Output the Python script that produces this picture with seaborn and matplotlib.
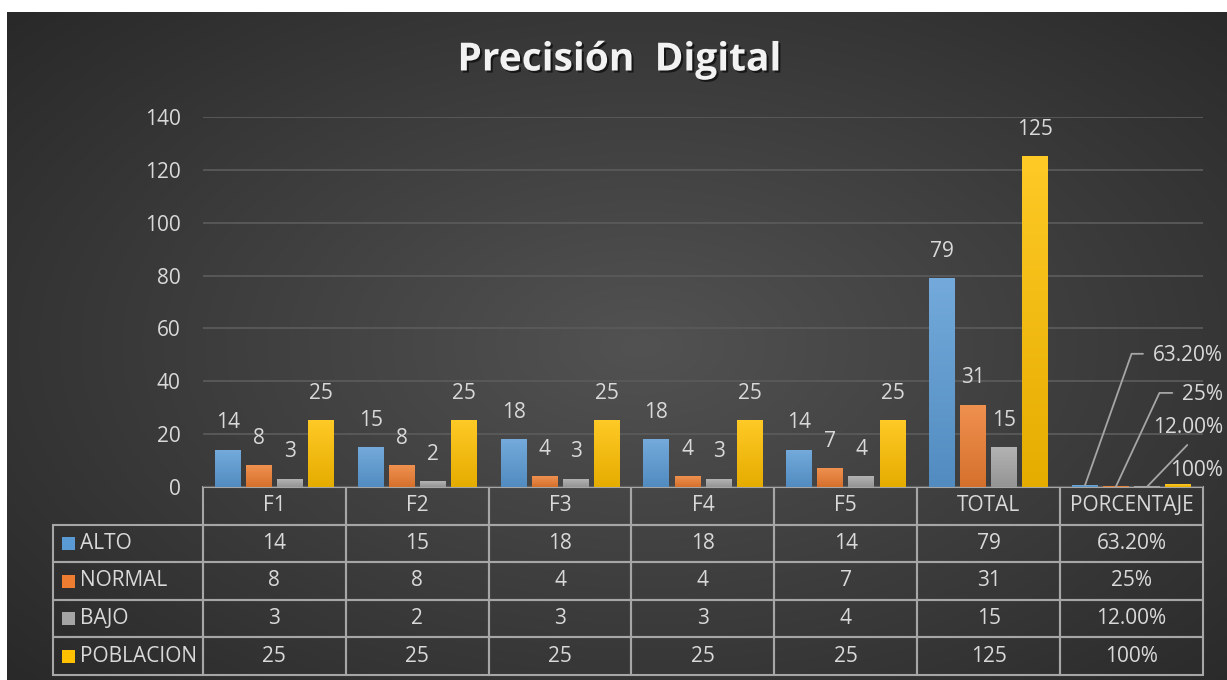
import numpy as np
import pandas as pd
import seaborn as sns
import matplotlib.pyplot as plt
import matplotlib.patheffects as pe
from matplotlib.colors import to_rgb
from matplotlib.patches import Rectangle

# chart data
categories = ['F1', 'F2', 'F3', 'F4', 'F5', 'TOTAL', 'PORCENTAJE']
series = ['ALTO', 'NORMAL', 'BAJO', 'POBLACION']
alto = [14, 15, 18, 18, 14, 79, 0.632]
normal = [8, 8, 4, 4, 7, 31, 0.25]
bajo = [3, 2, 3, 3, 4, 15, 0.12]
poblacion = [25, 25, 25, 25, 25, 125, 1.0]
pct_labels = ['63.20%', '25%', '12.00%', '100%']

colors = ['#5B9BD5', '#ED7D31', '#A5A5A5', '#FFC000']
text_col = '#d9d9d9'
line_col = '#a6a6a6'

values = [alto, normal, bajo, poblacion]
df = pd.DataFrame({
    'categoria': categories * len(series),
    'serie': [s for s in series for _ in categories],
    'valor': [v for vals in values for v in vals],
})

sns.set_theme(style='dark')
plt.rcParams['font.family'] = ['Open Sans', 'DejaVu Sans']

W, H = 1227, 680
fig = plt.figure(figsize=(W / 100, H / 100), dpi=100, facecolor='white')

# dark radial background (white strip on top / left like the screenshot)
bg = fig.add_axes([7 / W, 0, 1 - 7 / W, 1 - 12 / H])
bg.set_axis_off()
yy, xx = np.mgrid[0:1:300j, 0:1:540j]
r = np.sqrt(((xx - 0.52) / 0.75) ** 2 + ((yy - 0.5) / 0.8) ** 2)
r = np.clip(r, 0, 1)
c_in, c_out = np.array(to_rgb('#525252')), np.array(to_rgb('#262626'))
img = c_in[None, None, :] * (1 - r[..., None]) + c_out[None, None, :] * r[..., None]
bg.imshow(img, aspect='auto', extent=[0, 1, 0, 1])

# main plot area
ax = fig.add_axes([203 / W, 1 - 487 / H, 1000 / W, 370 / H])
ax.set_facecolor('none')
sns.barplot(data=df, x='categoria', y='valor', hue='serie', palette=colors,
            hue_order=series, order=categories, width=0.87, gap=0.17,
            saturation=1, legend=False, linewidth=0, ax=ax)

# vertical gradient on every bar
for patch in ax.patches:
    c = np.array(to_rgb(patch.get_facecolor()))
    top = c + (1 - c) * 0.15
    bottom = c * 0.9
    grad = np.linspace(bottom, top, 64)[:, None, :]
    x0, w, h = patch.get_x(), patch.get_width(), patch.get_height()
    ax.imshow(grad, extent=[x0, x0 + w, 0, h], origin='lower', aspect='auto',
              zorder=patch.get_zorder() + 0.1)

ax.set_xlim(-0.5, 6.5)
ax.set_ylim(0, 140)
ax.set_yticks(range(0, 141, 20))
ax.yaxis.grid(True, color='#5a5a5a', lw=1.3)
ax.xaxis.grid(False)
ax.set_axisbelow(True)
for sp in ax.spines.values():
    sp.set_visible(False)
ax.tick_params(axis='y', colors=text_col, labelsize=15, length=0, pad=16)
ax.set_xticks([])
ax.set_xlabel('')
ax.set_ylabel('')

# value labels (integers on the count groups)
for cont, vals in zip(ax.containers, values):
    labels = [f'{v:g}' for v in vals[:-1]] + ['']
    ax.bar_label(cont, labels=labels, padding=12, color=text_col, fontsize=15, zorder=5)

# percent labels with leader lines
pct_text_y = [49.6, 35.0, 22.7, 6.4]
leader_pts = [[(6.0, 50.4), (6.08, 50.4)],
              [(6.195, 35.6), (6.285, 35.6)],
              [(6.39, 15.9)],
              []]
for cont, lab, ty, pts in zip(ax.containers, pct_labels, pct_text_y, leader_pts):
    bar = cont[-1]
    bx = bar.get_x() + bar.get_width() / 2
    if pts:
        xs = [bx] + [p[0] for p in pts]
        ys = [bar.get_height()] + [p[1] for p in pts]
        ax.plot(xs, ys, color=line_col, lw=1.3, clip_on=False, zorder=4)
    ax.text(6.64, ty, lab, ha='right', va='center', color=text_col,
            fontsize=15, clip_on=False)

# data table under the plot
cell_text = []
for name, vals in zip(series, values):
    row = [name] + [f'{v:g}' for v in vals[:-1]]
    cell_text.append(row)
for row, lab in zip(cell_text, pct_labels):
    row.append(lab)

col_w = [150] + [143] * len(categories)
tbl_h = 188 / 370
tbl = ax.table(cellText=cell_text, colLabels=[''] + categories, cellLoc='center',
               colWidths=[w / sum(col_w) for w in col_w],
               bbox=[-150 / 1000, -tbl_h, 1150 / 1000, tbl_h])
tbl.auto_set_font_size(False)
for (r_i, c_i), cell in tbl.get_celld().items():
    cell.set_facecolor('none')
    cell.set_edgecolor(line_col)
    cell.set_linewidth(1.5)
    cell.get_text().set_color(text_col)
    cell.get_text().set_fontsize(15)
    if c_i == 0:
        if r_i == 0:
            cell.visible_edges = 'open'
        else:
            cell._loc = 'left'
            cell.PAD = 0.18
            cell.get_text().set_horizontalalignment('left')

# legend squares in the row label cells
row_h = tbl_h / 5
sq_h = 13 / 370
for i, col in enumerate(colors, start=1):
    yc = -(i + 0.5) * row_h
    ax.add_patch(Rectangle((-141 / 1000, yc - sq_h / 2), 13 / 1000, sq_h,
                           transform=ax.transAxes, facecolor=col,
                           edgecolor='none', clip_on=False, zorder=6))

# title
fig.text(619 / W, 1 - 60 / H, 'Precisión  Digital', ha='center', va='center',
         fontsize=28, fontweight='bold', color='#f2f2f2',
         path_effects=[pe.withSimplePatchShadow(offset=(1.5, -1.5),
                                                shadow_rgbFace='black', alpha=0.6)])

fig.savefig('out.png', dpi=100, facecolor='white')
